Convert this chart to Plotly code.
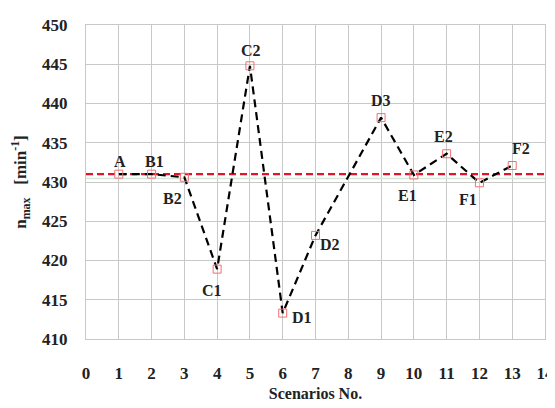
import plotly.graph_objs as go

scenarios = [1, 2, 3, 4, 5, 6, 7, 9, 10, 11, 12, 13]
n_max = [431.0, 431.0, 430.6, 418.9, 444.8, 413.3, 423.2, 438.2, 430.9, 433.6, 429.9, 432.1]
labels = ["A", "B1", "B2", "C1", "C2", "D1", "D2", "D3", "E1", "E2", "F1", "F2"]
reference_level = 431.0
# label offsets in pixels (dx, dy)
label_shift = [(1, 13), (3, 13), (-12, -21), (-5, -21), (1, 15), (19, -4),
               (14, -9), (0, 17), (-6, -21), (-3, 17), (-11, -17), (9, 17)]

FONT = "Liberation Serif, Times New Roman, serif"

fig = go.Figure()

# faint reference line just below the dashed one
fig.add_trace(go.Scatter(
    x=[0, 14], y=[430.45, 430.45], mode="lines",
    line=dict(color="#d3e9d6", width=1.5), hoverinfo="skip", showlegend=False,
))

fig.add_trace(go.Scatter(
    x=[0, 14], y=[reference_level, reference_level], mode="lines",
    line=dict(color="#e8102a", width=2.2, dash="7px,4px"), showlegend=False,
))

fig.add_trace(go.Scatter(
    x=scenarios, y=n_max, mode="lines+markers",
    line=dict(color="black", width=2.2, dash="8px,5px"),
    marker=dict(symbol="square-open", size=8, color="#f07070", line=dict(width=1)),
    showlegend=False,
))

for x, y, t, (dx, dy) in zip(scenarios, n_max, labels, label_shift):
    fig.add_annotation(
        x=x, y=y, text=t, showarrow=False, xshift=dx, yshift=dy,
        font=dict(family=FONT, size=16, color="#222222", weight="bold"),
    )

# page body adds an 8px offset, so the figure is 8px smaller than the window
fig.update_layout(
    width=547, height=400,
    plot_bgcolor="white", paper_bgcolor="white",
    margin=dict(l=78, r=10, t=17, b=69),
    font=dict(family=FONT, color="#222222"),
)
fig.update_xaxes(
    range=[0, 14], dtick=1, tick0=0, automargin=False,
    showgrid=True, gridcolor="#c8c8c8", gridwidth=1.3,
    showline=True, linecolor="#c8c8c8", linewidth=1.3, mirror=True,
    zeroline=False, ticks="", ticklabelstandoff=18,
    tickfont=dict(family=FONT, size=17, weight="bold"),
    title=dict(text="Scenarios No.", font=dict(family=FONT, size=16, weight="bold"), standoff=6),
)
fig.update_yaxes(
    range=[410, 450], dtick=5, automargin=False,
    showgrid=True, gridcolor="#c8c8c8", gridwidth=1.3,
    showline=True, linecolor="#c8c8c8", linewidth=1.3, mirror=True,
    zeroline=False, ticks="", ticklabelstandoff=14,
    tickfont=dict(family=FONT, size=17, weight="bold"),
    title=dict(text="n<sub>max</sub>&nbsp;&nbsp; [min<sup>-1</sup>]",
               font=dict(family=FONT, size=17, weight="bold"), standoff=13),
)

fig.write_html("out.html")
